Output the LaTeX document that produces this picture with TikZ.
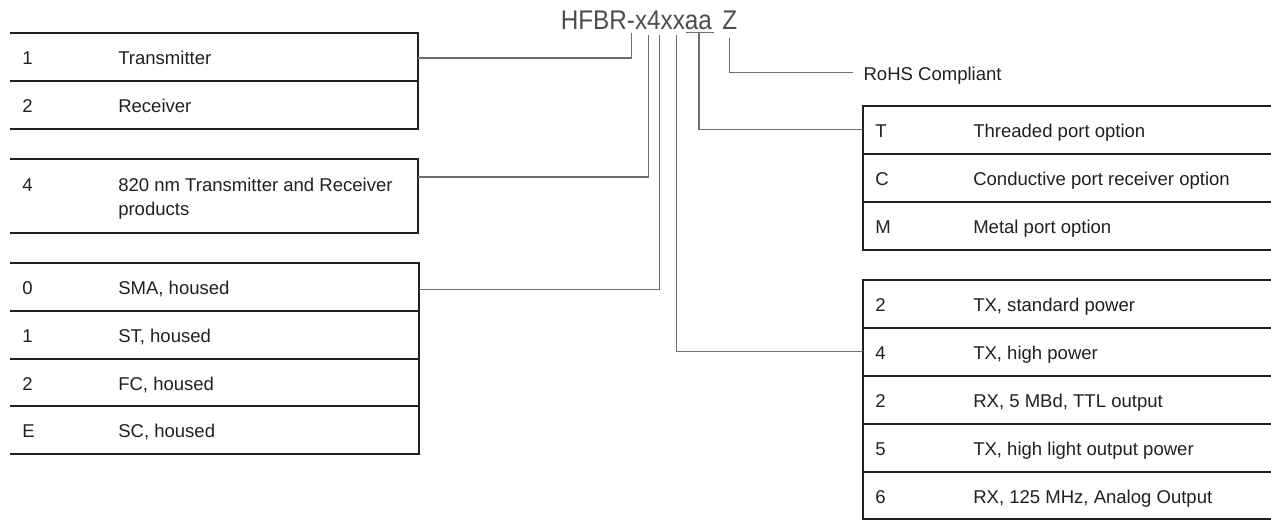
\documentclass[tikz,border=0pt]{standalone}
\usepackage{fontspec}
\setmainfont{Liberation Sans}
\newfontfamily\titlefont{Liberation Sans}[FakeStretch=0.9]
\definecolor{ink}{HTML}{231F20}
\definecolor{wire}{HTML}{6D6E71}
\definecolor{titlegray}{HTML}{4D4D4F}
\begin{document}
\begin{tikzpicture}[x=0.75pt,y=-0.75pt,
  rule/.style={draw=ink,line width=1.9pt,line join=miter},
  conn/.style={draw=wire,line width=0.8pt},
  cell/.style={anchor=base west,inner sep=0pt,text=ink,font=\fontsize{13.9pt}{17.6pt}\selectfont},
  ttl/.style={anchor=base west,inner sep=0pt,text=titlegray,font=\titlefont\fontsize{20.25pt}{24pt}\selectfont}]
\useasboundingbox (0,0) rectangle (1271,523);

% ---------- title ----------
\node[ttl] (tcode) at (560.5,29.3) {HFBR-x4xxaa};
\node[ttl] (tZ) at (722.0,29.3) {Z};
\draw[conn] (686.0,32.3) -- (713.5,32.3);

% ---------- left tables ----------
\draw[rule] (10,33) -- (418,33) -- (418,129) -- (10,129);
\draw[rule] (10,81) -- (418,81);
\node[cell] (n11) at (22,64.5) {1};
\node[cell] (d11) at (118,64.5) {Transmitter};
\node[cell] (n12) at (22,112.5) {2};
\node[cell] (d12) at (118,112.5) {Receiver};

\draw[rule] (10,159) -- (418,159) -- (418,233) -- (10,233);
\node[cell] (n21) at (22,191.5) {4};
\node[cell] (d21) at (118,191.5) {820 nm Transmitter and Receiver};
\node[cell] (d21b) at (118,215.5) {products};

\draw[rule] (10,263) -- (419,263) -- (419,454) -- (10,454);
\draw[rule] (10,311) -- (419,311);
\draw[rule] (10,359) -- (419,359);
\draw[rule] (10,406) -- (419,406);
\node[cell] (n31) at (22,294.5) {0};
\node[cell] (d31) at (118,294.5) {SMA, housed};
\node[cell] (n32) at (22,342.5) {1};
\node[cell] (d32) at (118,342.5) {ST, housed};
\node[cell] (n33) at (22,390.5) {2};
\node[cell] (d33) at (118,390.5) {FC, housed};
\node[cell] (n34) at (22,437.5) {E};
\node[cell] (d34) at (118,437.5) {SC, housed};

% ---------- right tables ----------
\draw[rule] (1272,106) -- (863,106) -- (863,250) -- (1272,250);
\draw[rule] (863,154) -- (1272,154);
\draw[rule] (863,202) -- (1272,202);
\node[cell] (nA1) at (875,137.5) {T};
\node[cell] (dA1) at (973,137.5) {Threaded port option};
\node[cell] (nA2) at (875,185.5) {C};
\node[cell] (dA2) at (973,185.5) {Conductive port receiver option};
\node[cell] (nA3) at (875,233.5) {M};
\node[cell] (dA3) at (973,233.5) {Metal port option};

\draw[rule] (1272,280) -- (863,280) -- (863,519) -- (1272,519);
\draw[rule] (863,328) -- (1272,328);
\draw[rule] (863,376) -- (1272,376);
\draw[rule] (863,424) -- (1272,424);
\draw[rule] (863,472) -- (1272,472);
\node[cell] (nB1) at (875,311.5) {2};
\node[cell] (dB1) at (973,311.5) {TX, standard power};
\node[cell] (nB2) at (875,359.5) {4};
\node[cell] (dB2) at (973,359.5) {TX, high power};
\node[cell] (nB3) at (875,407.5) {2};
\node[cell] (dB3) at (973,407.5) {RX, 5 MBd, TTL output};
\node[cell] (nB4) at (875,455.5) {5};
\node[cell] (dB4) at (973,455.5) {TX, high light output power};
\node[cell] (nB5) at (875,503.5) {6};
\node[cell] (dB5) at (973,503.5) {RX, 125 MHz, Analog Output};

\node[cell] (rohs) at (863.3,80.5) {RoHS Compliant};

% ---------- connectors ----------
\coordinate (sx1) at (631.7,33.5);
\coordinate (s4) at (648.3,35.5);
\coordinate (sx2) at (659.3,35.5);
\coordinate (sx3) at (676.7,35.5);
\coordinate (saa) at (699,32.3);
\coordinate (sZ) at (729.3,37.7);
\coordinate (eT1) at (418,58);
\coordinate (eT2) at (418,177);
\coordinate (eT3) at (419,289.3);
\coordinate (eB) at (863,351.7);
\coordinate (eA) at (863,129.5);
\coordinate (eR) at (852.7,72.5);
\draw[conn] (sx1) |- (eT1);
\draw[conn] (s4) |- (eT2);
\draw[conn] (sx2) |- (eT3);
\draw[conn] (sx3) |- (eB);
\draw[conn] (saa) |- (eA);
\draw[conn] (sZ) |- (eR);
\end{tikzpicture}
\end{document}
